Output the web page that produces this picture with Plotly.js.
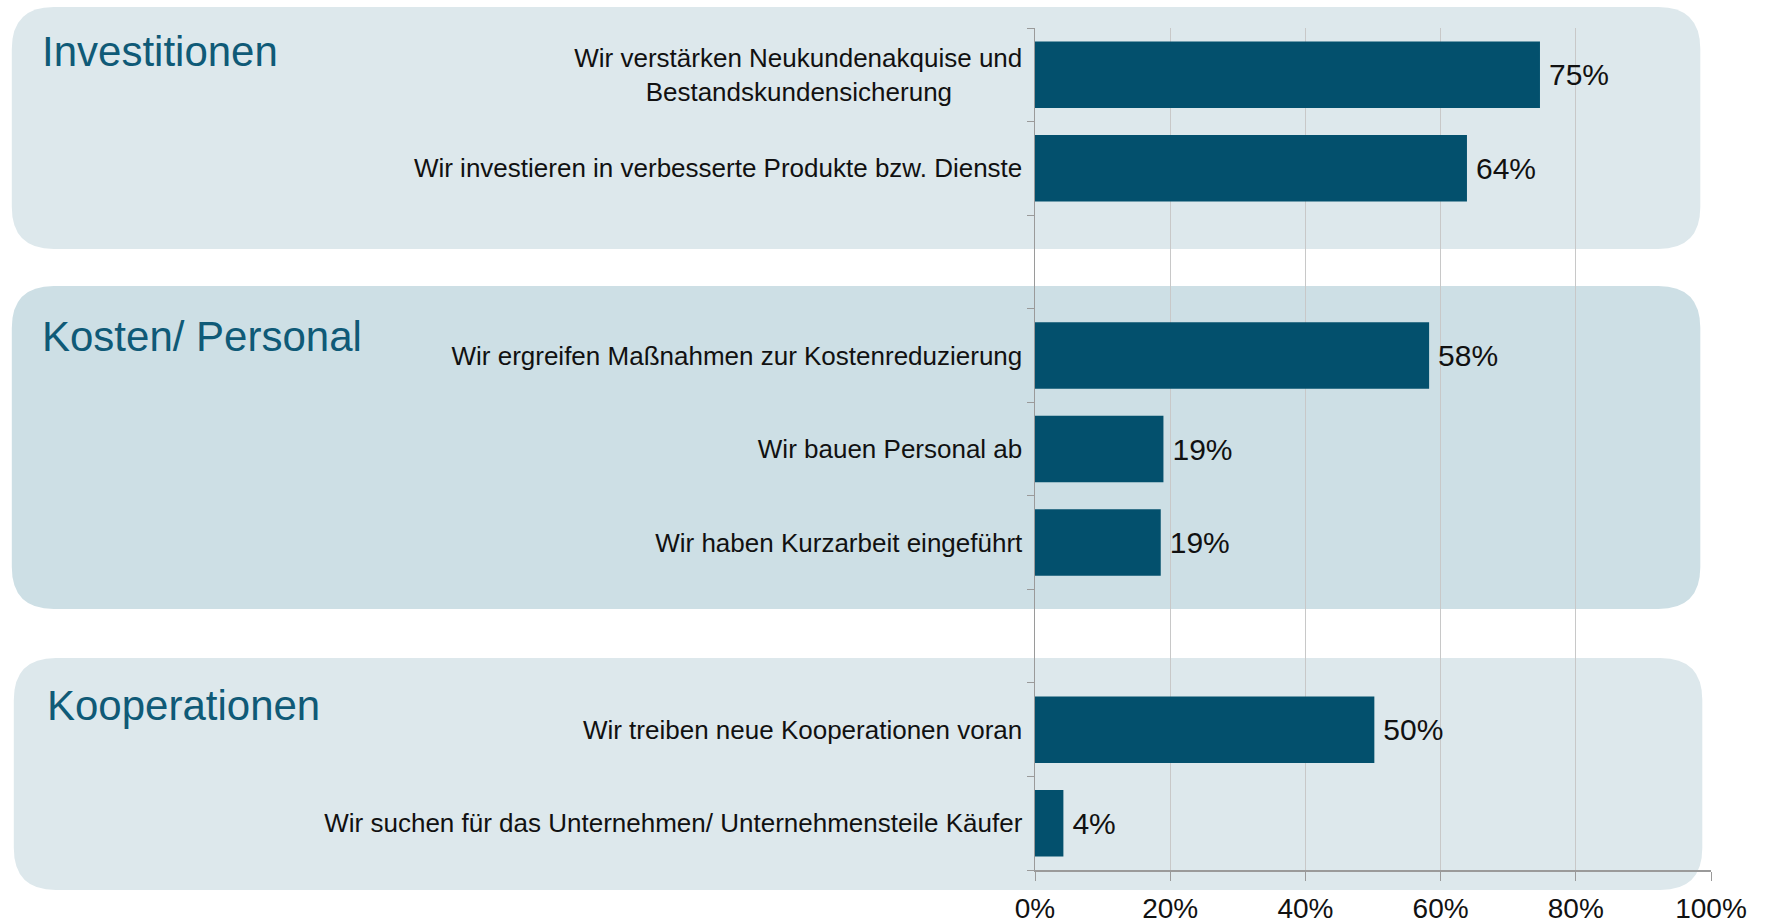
<!DOCTYPE html>
<html>
<head>
<meta charset="utf-8">
<script src="https://cdn.plot.ly/plotly-3.0.1.min.js"></script>
<style>
html,body{margin:0;padding:0;background:#fff;}
#chart{width:1767px;height:924px;}
</style>
</head>
<body>
<div id="chart"></div>
<script>
// ---- data ----
const categories = ["c1","c2","gap1","c3","c4","c5","gap2","c6","c7"];
const tickLabels = [
  "Wir verstärken Neukundenakquise und<br>Bestandskundensicherung\u00A0\u00A0\u00A0\u00A0\u00A0\u00A0\u00A0\u00A0\u00A0\u2009",
  "Wir investieren in verbesserte Produkte bzw. Dienste",
  "",
  "Wir ergreifen Maßnahmen zur Kostenreduzierung",
  "Wir bauen Personal ab",
  "Wir haben Kurzarbeit eingeführt",
  "",
  "Wir treiben neue Kooperationen voran",
  "Wir suchen für das Unternehmen/ Unternehmensteile Käufer"
];
const values = [74.7, 63.9, null, 58.3, 19.0, 18.6, null, 50.2, 4.2];
const xTickVals = [0, 20, 40, 60, 80, 100];
const xTickText = ["0%", "20%", "40%", "60%", "80%", "100%"];
const groupTitles = ["Investitionen", "Kosten/ Personal", "Kooperationen"];

// ---- layout helpers ----
const W = 1767, H = 924;
const M = {l: 1034.5, r: 56.3, t: 28, b: 54};
const pw = W - M.l - M.r, ph = H - M.t - M.b;
const px2x = p => (p - M.l) / pw;
const py2y = p => 1 - (p - M.t) / ph;

function roundRect(x0, y0, x1, y1, r) {
  const P = (x, y) => px2x(x).toFixed(5) + "," + py2y(y).toFixed(5);
  return "M" + P(x0 + r, y0) +
    " L" + P(x1 - r, y0) + " Q" + P(x1, y0) + " " + P(x1, y0 + r) +
    " L" + P(x1, y1 - r) + " Q" + P(x1, y1) + " " + P(x1 - r, y1) +
    " L" + P(x0 + r, y1) + " Q" + P(x0, y1) + " " + P(x0, y1 - r) +
    " L" + P(x0, y0 + r) + " Q" + P(x0, y0) + " " + P(x0 + r, y0) + " Z";
}

const boxes = [
  {x0: 11, y0: 7, x1: 1700, y1: 249, color: "#dde8ec"},
  {x0: 11, y0: 286, x1: 1700, y1: 609, color: "#cddfe5"},
  {x0: 13, y0: 658, x1: 1702, y1: 890, color: "#dde8ec"}
];
const shapes = boxes.map(b => ({
  type: "path", xref: "paper", yref: "paper", layer: "below",
  path: roundRect(b.x0, b.y0, b.x1, b.y1, 42),
  fillcolor: b.color, line: {width: 0}
}));

const titlePos = [{x: 39, y: 52}, {x: 39, y: 336}, {x: 44, y: 705}];
const annotations = groupTitles.map((t, i) => ({
  text: t, xref: "paper", yref: "paper",
  x: px2x(titlePos[i].x), y: py2y(titlePos[i].y),
  xanchor: "left", yanchor: "middle", showarrow: false,
  font: {family: "Liberation Sans, Arial, sans-serif", size: 42, color: "#0f5a77"}
}));

const trace = {
  type: "bar", orientation: "h",
  y: categories, x: values,
  marker: {color: "#03506d", line: {width: 0}},
  text: values.map(v => v == null ? "" : "\u2009" + Math.round(v) + "%"),
  textposition: "outside", cliponaxis: false,
  textfont: {family: "Liberation Sans, Arial, sans-serif", size: 30, color: "#111"},
  hoverinfo: "skip"
};

const layout = {
  width: W, height: H,
  margin: M,
  paper_bgcolor: "#ffffff",
  plot_bgcolor: "rgba(0,0,0,0)",
  showlegend: false,
  bargap: 0.29,
  font: {family: "Liberation Sans, Arial, sans-serif", color: "#111"},
  xaxis: {
    range: [0, 100], tickmode: "array", tickvals: xTickVals, ticktext: xTickText,
    showgrid: true, gridcolor: "#c8c8c8", gridwidth: 1,
    showline: true, linecolor: "#9a9a9a", linewidth: 1.5,
    ticks: "outside", ticklen: 9, tickcolor: "#9a9a9a",
    ticklabelstandoff: 4,
    tickfont: {size: 28, color: "#111"},
    zeroline: false, fixedrange: true
  },
  yaxis: {
    type: "category", autorange: "reversed",
    categoryorder: "array", categoryarray: categories,
    tickmode: "array", tickvals: categories, ticktext: tickLabels,
    tickson: "boundaries",
    showline: true, linecolor: "#9a9a9a", linewidth: 1.5,
    ticks: "outside", ticklen: 7, tickcolor: "#9a9a9a",
    ticklabelstandoff: 6,
    tickfont: {size: 26, color: "#111"},
    showgrid: false, zeroline: false, fixedrange: true
  },
  shapes: shapes,
  annotations: annotations
};

Plotly.newPlot("chart", [trace], layout, {displayModeBar: false, staticPlot: true});
</script>
</body>
</html>
